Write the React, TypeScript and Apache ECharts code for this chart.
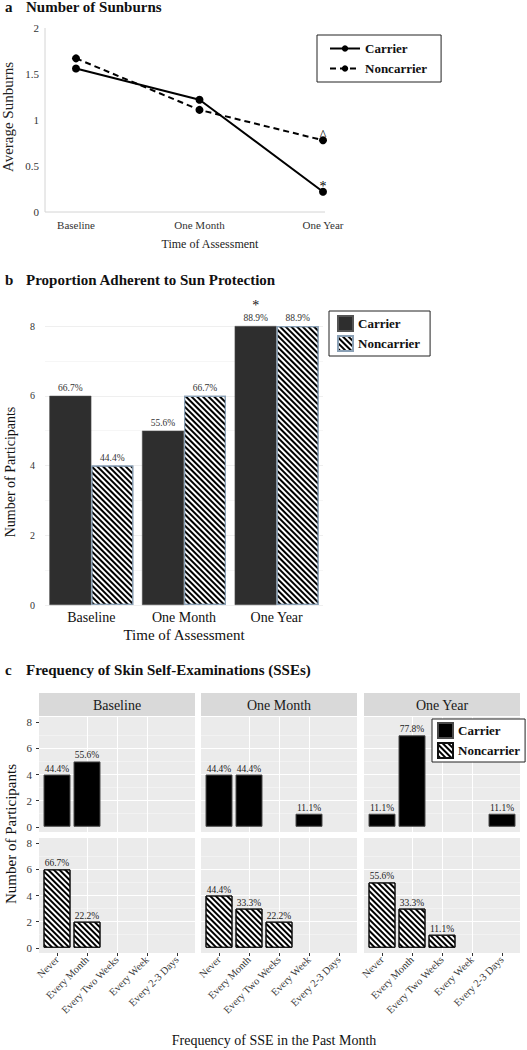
import React, { useEffect, useRef } from 'react';
import * as echarts from 'echarts';

// ---------- data ----------
const timePoints = ['Baseline', 'One Month', 'One Year'];

// Panel a: average sunburns
const sunburnCarrier = [1.56, 1.22, 0.22];
const sunburnNoncarrier = [1.67, 1.11, 0.78];
const sunburnCarrierMarks = ['', '', '*'];
const sunburnNoncarrierMarks = ['', '', '^'];

// Panel b: number adherent to sun protection
const adherentCarrier = [6, 5, 8];
const adherentNoncarrier = [4, 6, 8];
const adherentCarrierPct = ['66.7%', '55.6%', '88.9%'];
const adherentNoncarrierPct = ['44.4%', '66.7%', '88.9%'];
const adherentSignificance = ['', '', '*'];

// Panel c: frequency of skin self-examinations
const sseFrequencies = ['Never', 'Every Month', 'Every Two Weeks', 'Every Week', 'Every 2-3 Days'];
const sseCarrierBaseline = [4, 5, 0, 0, 0];
const sseCarrierOneMonth = [4, 4, 0, 1, 0];
const sseCarrierOneYear = [1, 7, 0, 0, 1];
const sseNoncarrierBaseline = [6, 2, 0, 0, 0];
const sseNoncarrierOneMonth = [4, 3, 2, 0, 0];
const sseNoncarrierOneYear = [5, 3, 1, 0, 0];
const sseCountTicks = [0, 2, 4, 6, 8];
const groupSize = 9;

// ---------- styles ----------
const SERIF = '"Liberation Serif", "Times New Roman", Times, serif';
const hatch = {
  symbol: 'rect',
  symbolSize: 1,
  color: '#000',
  backgroundColor: '#fff',
  dashArrayX: [1, 0],
  dashArrayY: [1.1, 1.1],
  rotation: Math.PI / 4,
};

const pct = (v: number) => ((v / groupSize) * 100).toFixed(1) + '%';
const legendName = (n: string) => n.split('_')[0];

function buildOption() {
  const grids: any[] = [];
  const xAxes: any[] = [];
  const yAxes: any[] = [];
  const series: any[] = [];
  const graphics: any[] = [];

  // ---------- panel a ----------
  grids.push({ left: 76, top: 28, width: 247, height: 184 });
  xAxes.push({
    gridIndex: 0,
    type: 'category',
    data: timePoints,
    boundaryGap: false,
    axisLine: { show: false },
    axisTick: { show: false },
    splitLine: { show: false },
    axisLabel: { fontFamily: SERIF, fontSize: 11, color: '#333', margin: 7 },
  });
  yAxes.push({
    gridIndex: 0,
    type: 'value',
    min: 0,
    max: 2,
    interval: 0.5,
    axisLine: { show: false },
    axisTick: { show: false },
    splitLine: { show: false },
    axisLabel: { fontFamily: SERIF, fontSize: 11, color: '#333', margin: 37 },
  });
  const markLabel = (m: string) =>
    m
      ? { show: true, formatter: m, position: 'inside', offset: [0, -5], fontFamily: SERIF, fontSize: 14, color: '#000', textBorderWidth: 0 }
      : { show: false };
  series.push({
    name: 'Carrier_a',
    type: 'line',
    xAxisIndex: 0,
    yAxisIndex: 0,
    data: sunburnCarrier.map((v, i) => ({ value: v, label: markLabel(sunburnCarrierMarks[i]) })),
    symbol: 'circle',
    symbolSize: 8,
    itemStyle: { color: '#000' },
    lineStyle: { color: '#000', width: 2, type: 'solid' },
    z: 3,
  });
  series.push({
    name: 'Noncarrier_a',
    type: 'line',
    xAxisIndex: 0,
    yAxisIndex: 0,
    data: sunburnNoncarrier.map((v, i) => ({ value: v, label: markLabel(sunburnNoncarrierMarks[i]) })),
    symbol: 'circle',
    symbolSize: 8,
    itemStyle: { color: '#000' },
    lineStyle: { color: '#000', width: 2, type: [6, 4] },
    z: 3,
  });
  graphics.push(
    { type: 'line', shape: { x1: 45, y1: 28, x2: 45, y2: 212 }, style: { stroke: '#d4d4d4', lineWidth: 1 } },
    { type: 'line', shape: { x1: 45, y1: 212, x2: 325, y2: 212 }, style: { stroke: '#d4d4d4', lineWidth: 1 } }
  );

  // ---------- panel b ----------
  grids.push({ left: 45, top: 326, width: 278, height: 279 });
  xAxes.push({
    gridIndex: 1,
    type: 'category',
    data: timePoints,
    axisLine: { show: false },
    axisTick: { show: false },
    splitLine: { show: false },
    axisLabel: { fontFamily: SERIF, fontSize: 14, color: '#111', margin: 5 },
  });
  yAxes.push({
    gridIndex: 1,
    type: 'value',
    min: 0,
    max: 8,
    interval: 2,
    axisLine: { show: false },
    axisTick: { show: false },
    axisLabel: { fontFamily: SERIF, fontSize: 10, color: '#333', margin: 10 },
    splitLine: { show: true, lineStyle: { color: '#efefef', width: 1 } },
    minorTick: { show: false, splitNumber: 2 },
    minorSplitLine: { show: true, lineStyle: { color: '#f6f6f6', width: 1 } },
  });
  series.push({
    name: 'Carrier_b',
    type: 'bar',
    xAxisIndex: 1,
    yAxisIndex: 1,
    data: adherentCarrier,
    barWidth: 42,
    barGap: '0%',
    itemStyle: { color: '#2e2e2e', borderColor: '#555', borderWidth: 0.5 },
    label: {
      show: true,
      position: 'top',
      distance: 3,
      formatter: (p: any) => adherentCarrierPct[p.dataIndex],
      fontFamily: SERIF,
      fontSize: 9.5,
      color: '#333',
    },
    markPoint: {
      symbol: 'circle',
      symbolSize: 0,
      silent: true,
      label: { show: true, fontFamily: SERIF, fontSize: 14, color: '#111', offset: [0, -21] },
      data: adherentSignificance
        .map((m, i) => (m ? { coord: [timePoints[i], adherentCarrier[i]], value: m, label: { formatter: m } } : null))
        .filter(Boolean),
    },
  });
  series.push({
    name: 'Noncarrier_b',
    type: 'bar',
    xAxisIndex: 1,
    yAxisIndex: 1,
    data: adherentNoncarrier,
    barWidth: 42,
    barGap: '0%',
    itemStyle: { color: '#fff', borderColor: '#8aa0b5', borderWidth: 1.2, decal: hatch },
    label: {
      show: true,
      position: 'top',
      distance: 3,
      formatter: (p: any) => adherentNoncarrierPct[p.dataIndex],
      fontFamily: SERIF,
      fontSize: 9.5,
      color: '#333',
    },
  });

  // ---------- panel c ----------
  const colLefts = [39, 201, 364];
  const colWidth = 156;
  const rowTops = [717, 838];
  const rowHeight = 115;
  const sseRows = [
    [sseCarrierBaseline, sseCarrierOneMonth, sseCarrierOneYear],
    [sseNoncarrierBaseline, sseNoncarrierOneMonth, sseNoncarrierOneYear],
  ];
  const catIdx = sseFrequencies.map((_, i) => i);
  for (let r = 0; r < 2; r++) {
    for (let c = 0; c < 3; c++) {
      const gi = grids.length;
      grids.push({
        left: colLefts[c],
        top: rowTops[r],
        width: colWidth,
        height: rowHeight,
        show: true,
        backgroundColor: '#ebebeb',
        borderWidth: 0,
      });
      const bottom = r === 1;
      const leftCol = c === 0;
      xAxes.push({
        gridIndex: gi,
        type: 'value',
        position: 'bottom',
        min: -0.6,
        max: 4.6,
        axisLine: { show: false, onZero: false },
        axisTick: { show: bottom, length: 3, lineStyle: { color: '#333' }, customValues: catIdx },
        axisLabel: {
          show: bottom,
          rotate: 45,
          margin: 5,
          fontFamily: SERIF,
          fontSize: 10.5,
          color: '#383838',
          customValues: catIdx,
          formatter: (v: number) => sseFrequencies[Math.round(v)] ?? '',
        },
        splitLine: { show: true, showMinLine: false, showMaxLine: false, lineStyle: { color: '#fff', width: 1 } },
      });
      yAxes.push({
        gridIndex: gi,
        type: 'value',
        position: 'left',
        min: -0.4,
        max: 8.4,
        axisLine: { show: false, onZero: false },
        axisTick: { show: leftCol, length: 3, lineStyle: { color: '#333' }, customValues: sseCountTicks },
        axisLabel: {
          show: leftCol,
          margin: 7,
          fontFamily: SERIF,
          fontSize: 11,
          color: '#383838',
          customValues: sseCountTicks,
        },
        splitLine: { show: true, showMinLine: false, showMaxLine: false, lineStyle: { color: '#fff', width: 1 } },
        minorTick: { show: false, splitNumber: 2 },
        minorSplitLine: { show: true, lineStyle: { color: '#f7f7f7', width: 0.6 } },
      });
      const vals = sseRows[r][c];
      series.push({
        name: r === 0 ? 'Carrier_c' : 'Noncarrier_c',
        type: 'bar',
        xAxisIndex: gi,
        yAxisIndex: gi,
        data: vals.map((v, i) => [i, v]).filter((d) => d[1] > 0),
        barWidth: 27,
        itemStyle:
          r === 0
            ? { color: '#000', borderColor: '#4a4a4a', borderWidth: 1 }
            : { color: '#fff', borderColor: '#111', borderWidth: 1, decal: hatch },
        label: {
          show: true,
          position: 'top',
          distance: 1,
          formatter: (p: any) => pct(p.value[1]),
          fontFamily: SERIF,
          fontSize: 9.5,
          color: '#222',
        },
      });
    }
  }
  // strips
  for (let c = 0; c < 3; c++) {
    graphics.push({
      type: 'rect',
      shape: { x: colLefts[c], y: 693, width: colWidth, height: 23 },
      style: { fill: '#d9d9d9' },
      silent: true,
    });
    graphics.push({
      type: 'text',
      x: colLefts[c] + colWidth / 2,
      y: 705,
      style: {
        text: timePoints[c],
        fontFamily: SERIF,
        fontSize: 14,
        fill: '#1a1a1a',
        align: 'center',
        verticalAlign: 'middle',
      },
      silent: true,
    });
  }

  // ---------- titles & axis titles ----------
  const txt = (text: string, x: number, y: number, size: number, opts: any = {}) => ({
    type: 'text',
    x,
    y,
    rotation: opts.rotation || 0,
    silent: true,
    style: {
      text,
      fontFamily: SERIF,
      fontSize: size,
      fontWeight: opts.bold ? 'bold' : 'normal',
      fill: opts.fill || '#111',
      align: opts.align || 'center',
      verticalAlign: 'middle',
    },
  });
  graphics.push(
    txt('a', 5, 7, 15, { bold: true, align: 'left' }),
    txt('Number of Sunburns', 26, 7, 15, { bold: true, align: 'left' }),
    txt('Average Sunburns', 8, 117, 15, { rotation: Math.PI / 2, fill: '#222' }),
    txt('Time of Assessment', 210, 244, 12, { fill: '#222' }),
    txt('b', 5, 280, 15, { bold: true, align: 'left' }),
    txt('Proportion Adherent to Sun Protection', 26, 280, 15, { bold: true, align: 'left' }),
    txt('Number of Participants', 10, 472, 14, { rotation: Math.PI / 2 }),
    txt('Time of Assessment', 184, 635, 15),
    txt('c', 5, 670, 15, { bold: true, align: 'left' }),
    txt('Frequency of Skin Self-Examinations (SSEs)', 26, 670, 15, { bold: true, align: 'left' }),
    txt('Number of Participants', 11, 834, 15, { rotation: Math.PI / 2 }),
    txt('Frequency of SSE in the Past Month', 274, 1040, 14)
  );

  const legendText = { fontFamily: SERIF, fontSize: 13, fontWeight: 'bold', color: '#111' };
  const legends = [
    {
      data: ['Carrier_a', 'Noncarrier_a'],
      left: 317,
      top: 35,
      orient: 'vertical',
      borderColor: '#222',
      borderWidth: 1,
      padding: [7, 14, 7, 12],
      itemWidth: 30,
      itemHeight: 8,
      itemGap: 7,
      formatter: legendName,
      textStyle: legendText,
      selectedMode: false,
    },
    {
      data: ['Carrier_b', 'Noncarrier_b'],
      left: 329,
      top: 311,
      orient: 'vertical',
      borderColor: '#222',
      borderWidth: 1,
      padding: [4, 10, 4, 8],
      itemWidth: 15,
      itemHeight: 15,
      itemGap: 3,
      icon: 'rect',
      formatter: legendName,
      textStyle: legendText,
      selectedMode: false,
    },
    {
      data: ['Carrier_c', 'Noncarrier_c'],
      left: 432,
      top: 719,
      orient: 'vertical',
      backgroundColor: '#fff',
      borderColor: '#222',
      borderWidth: 1,
      padding: [3, 5, 3, 5],
      itemWidth: 15,
      itemHeight: 15,
      itemGap: 3,
      icon: 'rect',
      formatter: legendName,
      textStyle: legendText,
      selectedMode: false,
      z: 10,
    },
  ];

  return {
    animation: false,
    backgroundColor: '#fff',
    textStyle: { fontFamily: SERIF },
    grid: grids,
    xAxis: xAxes,
    yAxis: yAxes,
    legend: legends,
    series,
    graphic: graphics,
  };
}

export default function App() {
  const ref = useRef<HTMLDivElement>(null);
  useEffect(() => {
    if (!ref.current) return;
    const chart = echarts.init(ref.current, undefined, { renderer: 'svg' });
    chart.setOption(buildOption() as any);
    return () => chart.dispose();
  }, []);
  return (
    <div
      ref={ref}
      style={{ position: 'absolute', left: 0, top: 0, width: 527, height: 1050, background: '#fff' }}
    />
  );
}
